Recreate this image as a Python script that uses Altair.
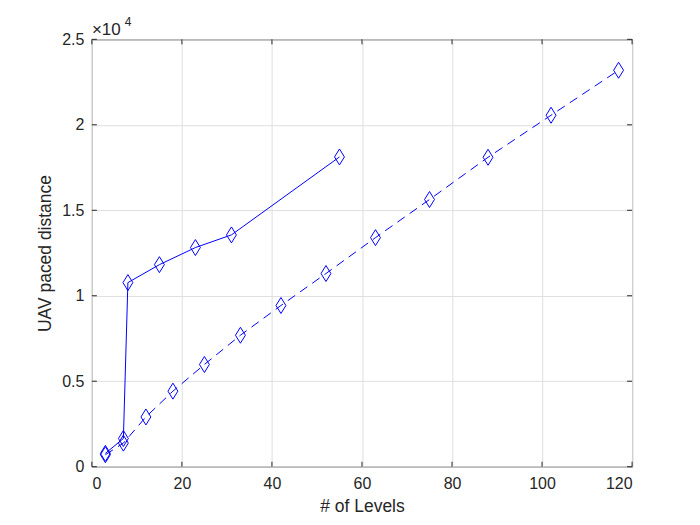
import altair as alt
import pandas as pd

# Data
solid_x = [3, 7, 8, 15, 23, 31, 55]
solid_y = [780, 1650, 10770, 11820, 12820, 13560, 18120]
dashed_x = [3, 7, 12, 18, 25, 33, 42, 52, 63, 75, 88, 102, 117]
dashed_y = [700, 1380, 2910, 4420, 5980, 7690, 9430, 11300, 13400, 15630, 18100, 20560, 23190]

x_ticks = [0, 20, 40, 60, 80, 100, 120]
y_ticks = [0, 5000, 10000, 15000, 20000, 25000]

df = pd.concat([
    pd.DataFrame({"levels": solid_x, "dist": solid_y, "series": "solid"}),
    pd.DataFrame({"levels": dashed_x, "dist": dashed_y, "series": "dashed"}),
])

W, H = 541, 428
FONT = "Liberation Sans"
AX = "#262626"
BLUE = "#0000ff"
DIAMOND = "M0,-1L0.62,0L0,1L-0.62,0Z"

xs = alt.Scale(domain=[0, 120], nice=False, zero=False)
ys = alt.Scale(domain=[0, 25000], nice=False, zero=False)

xaxis = alt.Axis(values=x_ticks, title="# of Levels")
yaxis = alt.Axis(values=y_ticks, labelExpr="datum.value / 10000",
                 title="UAV paced distance")

base = alt.Chart(df)

solid_line = base.transform_filter(alt.datum.series == "solid").mark_line(
    color=BLUE, strokeWidth=1).encode(
    x=alt.X("levels:Q", scale=xs, axis=xaxis),
    y=alt.Y("dist:Q", scale=ys, axis=yaxis),
)
dashed_line = base.transform_filter(alt.datum.series == "dashed").mark_line(
    color=BLUE, strokeWidth=1, strokeDash=[9, 6]).encode(
    x=alt.X("levels:Q", scale=xs, axis=xaxis),
    y=alt.Y("dist:Q", scale=ys, axis=yaxis),
)
points = base.mark_point(shape=DIAMOND, size=256, filled=False, color=BLUE,
                         strokeWidth=1, opacity=1).encode(
    x=alt.X("levels:Q", scale=xs, axis=xaxis),
    y=alt.Y("dist:Q", scale=ys, axis=yaxis),
)

# inward tick marks on all four sides
xt = pd.DataFrame({"levels": x_ticks})
yt = pd.DataFrame({"dist": y_ticks})
tb = alt.Chart(xt).mark_rule(color=AX, strokeWidth=1).encode(
    x=alt.X("levels:Q", scale=xs, axis=xaxis), y=alt.value(H), y2=alt.value(H - 5))
tt = alt.Chart(xt).mark_rule(color=AX, strokeWidth=1).encode(
    x=alt.X("levels:Q", scale=xs, axis=xaxis), y=alt.value(0), y2=alt.value(5))
tl = alt.Chart(yt).mark_rule(color=AX, strokeWidth=1).encode(
    y=alt.Y("dist:Q", scale=ys, axis=yaxis), x=alt.value(0), x2=alt.value(5))
tr = alt.Chart(yt).mark_rule(color=AX, strokeWidth=1).encode(
    y=alt.Y("dist:Q", scale=ys, axis=yaxis), x=alt.value(W), x2=alt.value(W - 5))

exp_base = alt.Chart(pd.DataFrame({"t": ["×10"]})).mark_text(
    font=FONT, fontSize=17, color=AX, align="left", baseline="alphabetic").encode(
    text="t:N", x=alt.value(0), y=alt.value(-4))
exp_sup = alt.Chart(pd.DataFrame({"t": ["4"]})).mark_text(
    font=FONT, fontSize=12, color=AX, align="left", baseline="alphabetic").encode(
    text="t:N", x=alt.value(33), y=alt.value(-13))

chart = alt.layer(solid_line, dashed_line, points, tb, tt, tl, tr, exp_base, exp_sup).properties(
    width=W, height=H,
    background="white",
    autosize=alt.AutoSizeParams(type="none"),
    padding={"left": 84, "top": 31, "right": 60, "bottom": 60},
).configure_view(stroke=AX, strokeWidth=1).configure_axis(
    grid=True, gridColor="#dfdfdf", gridWidth=1, ticks=False, domain=False,
    labelColor=AX, labelFont=FONT, labelFontSize=16,
    titleFont=FONT, titleFontSize=17.5, titleFontWeight="normal", titleColor=AX,
).configure_axisX(labelPadding=9, titlePadding=6).configure_axisY(
    labelPadding=8, titlePadding=7
)

chart.save("out.html", embed_options={"renderer": "svg", "actions": False})
